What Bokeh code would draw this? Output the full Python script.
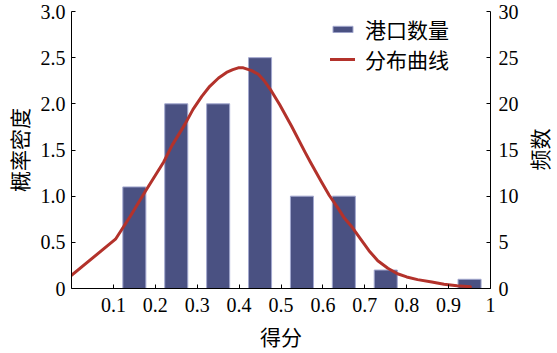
from bokeh.plotting import figure
from bokeh.models import (Range1d, LinearAxis, FixedTicker, ColumnDataSource,
                          Legend, LegendItem, Label)
from bokeh.embed import file_html
from bokeh.resources import INLINE
import math

# ---- data ----
bar_x = [0.15, 0.25, 0.35, 0.45, 0.55, 0.65, 0.75, 0.95]
bar_freq = [11, 20, 20, 25, 10, 10, 2, 1]

curve_x = [0.0, 0.105, 0.14, 0.176, 0.22, 0.24, 0.271, 0.29, 0.311, 0.33,
           0.351, 0.37, 0.385, 0.398, 0.41, 0.43, 0.446, 0.46, 0.477, 0.497,
           0.525, 0.557, 0.57, 0.596, 0.615, 0.636, 0.65, 0.667, 0.691,
           0.71, 0.731, 0.755, 0.778, 0.80, 0.826, 0.86, 0.889, 0.92, 0.952]
curve_y = [0.143, 0.534, 0.78, 1.05, 1.37, 1.55, 1.78, 1.94, 2.08, 2.19,
           2.28, 2.34, 2.37, 2.39, 2.39, 2.36, 2.32, 2.25, 2.14, 1.99,
           1.76, 1.48, 1.37, 1.16, 1.01, 0.87, 0.77, 0.68, 0.53,
           0.41, 0.30, 0.22, 0.16, 0.125, 0.096, 0.07, 0.047, 0.03, 0.018]

x_ticks = [0.1, 0.2, 0.3, 0.4, 0.5, 0.6, 0.7, 0.8, 0.9, 1.0]
x_tick_labels = ["0.1", "0.2", "0.3", "0.4", "0.5", "0.6", "0.7", "0.8", "0.9", "1"]
left_ticks = [0, 0.5, 1.0, 1.5, 2.0, 2.5, 3.0]
left_tick_labels = ["0", "0.5", "1.0", "1.5", "2.0", "2.5", "3.0"]
right_ticks = [0, 5, 10, 15, 20, 25, 30]

x_label = "得分"
left_label = "概率密度"
right_label = "频数"
bar_name = "港口数量"
curve_name = "分布曲线"

SERIF = "Liberation Serif"
CJK = "Noto Sans CJK SC"
NUM_SIZE = "20px"
CJK_SIZE = "21px"

p = figure(width=557, height=353, output_backend="svg", toolbar_location=None,
           x_range=Range1d(0, 1), y_range=Range1d(0, 3),
           min_border_left=69, min_border_right=67, min_border_top=11,
           min_border_bottom=61)
p.outline_line_color = None
p.grid.visible = False
p.background_fill_color = "white"
p.border_fill_color = "white"

p.extra_y_ranges = {"freq": Range1d(0, 30)}

src_bar = ColumnDataSource(dict(x=bar_x, top=bar_freq))
r_bar = p.vbar(x="x", top="top", width=0.055, source=src_bar, y_range_name="freq",
               fill_color="#4a5182", line_color="#a3a8cf", line_width=1)

src_curve = ColumnDataSource(dict(x=curve_x, y=curve_y))
r_line = p.line(x="x", y="y", source=src_curve, line_color="#b3322b",
                line_width=3, line_join="round", line_cap="round")

# x axis
xa = p.xaxis[0]
xa.ticker = FixedTicker(ticks=x_ticks)
xa.major_label_overrides = {t: l for t, l in zip(x_ticks, x_tick_labels)}
xa.axis_label = x_label

# left axis
ya = p.yaxis[0]
ya.ticker = FixedTicker(ticks=left_ticks)
ya.major_label_overrides = {t: l for t, l in zip(left_ticks, left_tick_labels)}
ya.axis_label = left_label

# right axis
ra = LinearAxis(y_range_name="freq", ticker=FixedTicker(ticks=right_ticks))
p.add_layout(ra, "right")

for ax in (xa, ya, ra):
    ax.axis_line_color = "black"
    ax.axis_line_width = 1
    ax.major_tick_in = 4
    ax.major_tick_out = 0
    ax.major_tick_line_color = "black"
    ax.minor_tick_line_color = None
    ax.major_label_text_font = SERIF
    ax.major_label_text_font_size = NUM_SIZE
    ax.major_label_text_color = "black"
    ax.axis_label_text_font = CJK
    ax.axis_label_text_font_size = CJK_SIZE
    ax.axis_label_text_font_style = "normal"
    ax.axis_label_text_color = "black"

xa.major_label_standoff = 9
xa.axis_label_standoff = 6
ya.major_label_standoff = 6
ya.axis_label_standoff = 4
ra.major_label_standoff = 8

# right-axis title, reading bottom-to-top, in its own side panel
right_title = Label(x=17, y=139, x_units="screen", y_units="screen",
                    text=right_label, angle=math.pi / 2, angle_units="rad",
                    text_align="center", text_baseline="middle",
                    text_font=CJK, text_font_size=CJK_SIZE, text_color="black")
p.add_layout(right_title, "right")

legend = Legend(items=[LegendItem(label=bar_name, renderers=[r_bar]),
                       LegendItem(label=curve_name, renderers=[r_line])],
                location=(259, 214))
legend.label_text_font = CJK
legend.label_text_font_size = CJK_SIZE
legend.label_text_color = "black"
legend.glyph_width = 25
legend.glyph_height = 8
legend.label_standoff = 10
legend.spacing = -4
legend.padding = 0
legend.margin = 0
legend.border_line_color = None
legend.background_fill_alpha = 0
p.add_layout(legend)

open("out.html", "w").write(file_html(p, INLINE))
